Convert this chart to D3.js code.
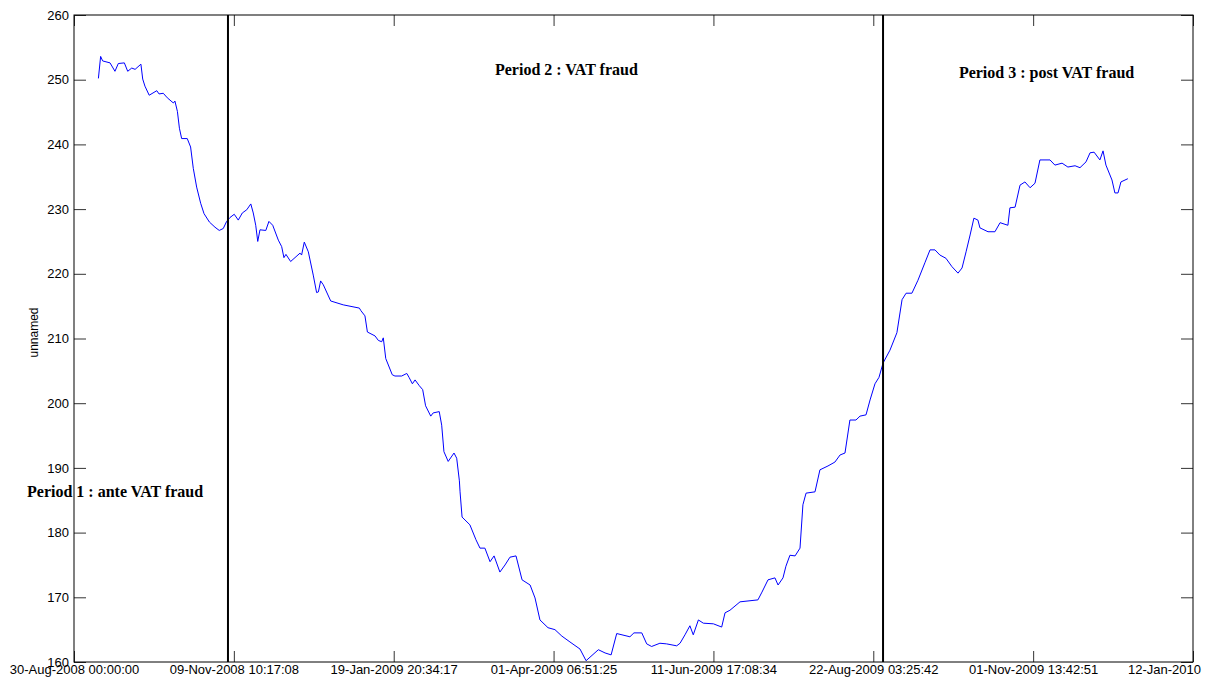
<!DOCTYPE html>
<html>
<head>
<meta charset="utf-8">
<script src="https://cdn.jsdelivr.net/npm/d3@7/dist/d3.min.js"></script>
<style>
  body { margin: 0; background: #fff; }
  svg { display: block; }
  .axis text { font-family: "Liberation Sans", Arial, sans-serif; font-size: 13px; fill: #000; }
  .axis path { display: none; }
  .axis line { stroke: #333; }
  .note { font-family: "Liberation Serif", "Times New Roman", serif; font-size: 16px; font-weight: bold; }
</style>
</head>
<body>
<div id="chart"></div>
<script>
// series: days since 30-Aug-2008
const startDate = Date.UTC(2008, 7, 30);
const dayOffsets = [
  10.9, 11.9, 12.8, 16.1, 18.3, 19.8, 22.5, 24.0, 25.8, 27.3, 29.9, 30.7, 31.7, 33.6, 37.0, 38.0, 39.9, 41.7, 44.4, 45.1,
  46.2, 47.1, 48.1, 50.6, 52.1, 53.3, 54.8, 56.6, 58.1, 60.5, 63.0, 64.9, 66.7, 68.2, 69.7, 71.6, 73.4, 75.2, 77.2, 79.0,
  80.1, 81.2, 82.1, 83.1, 85.7, 87.1, 88.8, 91.3, 92.8, 93.8, 94.7, 96.8, 101.0, 101.7, 102.9, 104.7, 106.9, 108.4, 109.2, 110.2,
  111.4, 114.7, 120.3, 127.5, 128.2, 130.0, 131.1, 134.5, 136.0, 137.5, 138.2, 139.3, 142.2, 143.4, 146.4, 148.7, 149.7, 151.2, 152.4, 154.3,
  155.8, 157.1, 159.4, 160.5, 163.2, 164.3, 165.3, 167.2, 169.8, 171.0, 172.2, 172.5, 173.4, 176.9, 179.6, 181.4, 183.6, 185.9, 187.7, 190.3,
  192.6, 194.8, 197.5, 200.2, 203.8, 206.0, 208.2, 211.8, 214.9, 218.0, 221.6, 226.1, 228.8, 234.3, 237.3, 240.0, 242.5, 248.4, 250.2, 253.7,
  255.9, 258.1, 261.8, 264.8, 269.3, 270.8, 273.0, 275.2, 276.7, 279.0, 281.2, 285.7, 289.4, 290.9, 293.1, 297.6, 305.6, 307.4, 310.1, 313.2,
  314.6, 316.8, 318.1, 319.9, 322.2, 324.4, 325.7, 327.1, 331.1, 333.3, 336.9, 340.0, 342.3, 344.5, 346.7, 349.4, 351.2, 353.9, 355.7, 357.9,
  359.7, 361.5, 364.6, 367.7, 370.0, 371.8, 374.4, 377.1, 380.2, 382.5, 384.7, 386.9, 389.6, 392.3, 395.0, 396.8, 398.6, 400.4, 402.1, 403.9,
  404.8, 408.4, 411.5, 413.8, 417.3, 418.2, 420.5, 422.7, 424.9, 427.2, 429.4, 431.6, 436.1, 438.3, 441.5, 444.1, 447.3, 449.5, 452.2, 454.0,
  455.8, 458.4, 459.8, 461.1, 463.8, 465.1, 466.5, 467.8, 470.9
];
const seriesValues = [
  250.2, 253.6, 252.9, 252.6, 251.3, 252.5, 252.6, 251.3, 251.8, 251.6, 252.4, 250.1, 249.0, 247.6, 248.3, 247.8, 247.9, 247.2, 246.4, 246.7,
  245.1, 242.5, 240.9, 240.9, 239.6, 236.3, 233.4, 230.9, 229.3, 228.0, 227.2, 226.7, 227.0, 228.1, 228.7, 229.2, 228.3, 229.4, 229.9, 230.8,
  229.4, 227.5, 225.0, 226.8, 226.7, 228.1, 227.5, 225.2, 224.2, 222.5, 223.0, 221.9, 223.2, 222.9, 224.9, 223.4, 219.8, 217.1, 217.2, 218.9,
  218.3, 215.8, 215.2, 214.7, 214.3, 213.5, 211.0, 210.4, 209.7, 209.5, 210.1, 206.9, 204.4, 204.2, 204.2, 204.6, 204.0, 203.0, 203.6, 202.7,
  202.1, 199.6, 198.0, 198.5, 198.7, 196.6, 192.5, 191.0, 192.3, 191.5, 188.0, 186.3, 182.4, 181.2, 178.9, 177.6, 177.6, 175.5, 176.4, 173.9,
  175.0, 176.2, 176.4, 172.7, 171.9, 169.9, 166.5, 165.3, 165.0, 164.0, 163.1, 162.0, 160.2, 161.9, 161.4, 161.1, 164.4, 163.9, 164.5, 164.5,
  162.8, 162.4, 162.9, 162.8, 162.5, 162.9, 164.2, 165.6, 164.2, 166.5, 166.0, 165.9, 165.4, 167.6, 168.0, 169.3, 169.6, 170.8, 172.7, 173.0,
  171.9, 173.0, 174.8, 176.5, 176.4, 177.6, 184.3, 186.1, 186.3, 189.7, 190.3, 190.9, 192.0, 192.3, 197.4, 197.4, 198.0, 198.2, 200.5, 203.0,
  204.0, 206.2, 208.2, 210.9, 216.0, 217.0, 217.0, 219.0, 221.7, 223.7, 223.7, 222.9, 222.4, 221.1, 220.1, 220.9, 223.4, 226.0, 228.6, 228.3,
  227.1, 226.5, 226.5, 227.9, 227.5, 230.2, 230.3, 233.7, 234.2, 233.3, 234.0, 237.6, 237.6, 236.8, 237.1, 236.5, 236.7, 236.4, 237.3, 238.7,
  238.8, 237.6, 239.0, 236.8, 234.5, 232.5, 232.5, 234.2, 234.7
];

// period separators (days since start) and annotations
const periodBreaks = [68.8, 361.5];
const periodLabels = ["Period 1 : ante VAT fraud", "Period 2 : VAT fraud", "Period 3 : post VAT fraud"];
const periodLabelDays = [-21.0, 188.1, 395.4];
const periodLabelValues = [185.5, 250.7, 250.3];

const yTicks = [160, 170, 180, 190, 200, 210, 220, 230, 240, 250, 260];
const xTickLabels = [
  "30-Aug-2008 00:00:00", "09-Nov-2008 10:17:08", "19-Jan-2009 20:34:17", "01-Apr-2009 06:51:25",
  "11-Jun-2009 17:08:34", "22-Aug-2009 03:25:42", "01-Nov-2009 13:42:51", "12-Jan-2010"
];

const W = 1207, H = 684;
const M = { top: 15, right: 14, bottom: 22, left: 74 };
const DAY = 86400000;
const toDate = d => new Date(startDate + d * DAY);

const svg = d3.select('#chart').append('svg').attr('width', W).attr('height', H);
svg.append('rect').attr('width', W).attr('height', H).attr('fill', '#fff');

const x = d3.scaleUtc().domain([toDate(0), toDate(500)]).range([M.left, W - M.right]);
const y = d3.scaleLinear().domain([160, 260]).range([H - M.bottom, M.top]);

const xTickDates = xTickLabels.map((_, i) => toDate(i * 500 / 7));

// axes, ticks pointing inward
const gx = svg.append('g').attr('class', 'axis')
    .attr('transform', `translate(0,${H - M.bottom})`)
    .call(d3.axisBottom(x).tickValues(xTickDates).tickFormat((d, i) => xTickLabels[i]).tickSizeInner(-11).tickSizeOuter(0).tickPadding(3));
// keep labels inside the window, like the original
gx.selectAll('text').each(function () {
  const w = this.getComputedTextLength();
  const tx = +d3.select(this.parentNode).attr('transform').match(/translate\(([-\d.]+)/)[1];
  let shift = 0;
  if (tx - w / 2 < 1) shift = 1 - (tx - w / 2);
  if (tx + w / 2 > W - 6) shift = (W - 6) - (tx + w / 2);
  d3.select(this).attr('dx', shift);
});

svg.append('g').attr('class', 'axis')
    .attr('transform', `translate(0,${M.top})`)
    .call(d3.axisTop(x).tickValues(xTickDates).tickFormat('').tickSizeInner(-11).tickSizeOuter(0));

svg.append('g').attr('class', 'axis')
    .attr('transform', `translate(${M.left},0)`)
    .call(d3.axisLeft(y).tickValues(yTicks).tickFormat(d3.format('d')).tickSizeInner(-12).tickSizeOuter(0).tickPadding(5));

svg.append('g').attr('class', 'axis')
    .attr('transform', `translate(${W - M.right},0)`)
    .call(d3.axisRight(y).tickValues(yTicks).tickFormat('').tickSizeInner(-12).tickSizeOuter(0));

// plot box
svg.append('rect')
    .attr('x', M.left).attr('y', M.top)
    .attr('width', W - M.left - M.right).attr('height', H - M.top - M.bottom)
    .attr('fill', 'none').attr('stroke', '#000').attr('stroke-width', 1);

// y label
svg.append('text')
    .attr('transform', `translate(38,${(M.top + H - M.bottom) / 2 - 6}) rotate(-90)`)
    .attr('text-anchor', 'middle')
    .style('font-family', '"Liberation Sans", Arial, sans-serif').style('font-size', '12px')
    .text('unnamed');

// series line
const pts = dayOffsets.map((d, i) => ({ date: toDate(d), value: seriesValues[i] }));
svg.append('path')
    .datum(pts)
    .attr('fill', 'none').attr('stroke', '#0000ff').attr('stroke-width', 1)
    .attr('d', d3.line().x(d => x(d.date)).y(d => y(d.value)));

// period separators
svg.selectAll('line.sep').data(periodBreaks).join('line')
    .attr('class', 'sep')
    .attr('x1', d => x(toDate(d))).attr('x2', d => x(toDate(d)))
    .attr('y1', M.top).attr('y2', H - M.bottom)
    .attr('stroke', '#000').attr('stroke-width', 2);

// annotations
svg.selectAll('text.note').data(periodLabels).join('text')
    .attr('class', 'note')
    .attr('x', (d, i) => x(toDate(periodLabelDays[i])))
    .attr('y', (d, i) => y(periodLabelValues[i]))
    .text(d => d);
</script>
</body>
</html>
